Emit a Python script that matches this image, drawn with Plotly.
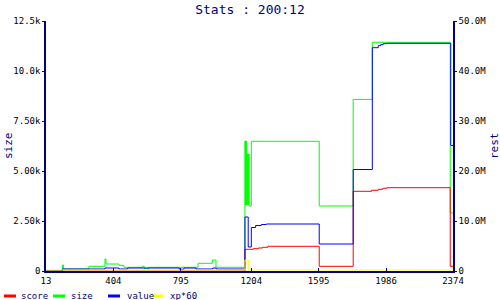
import plotly.graph_objects as go

# ---- data ----
x_ticks = [13, 404, 795, 1204, 1595, 1986, 2374]
x_tick_labels = ["13", "404", "795", "1204", "1595", "1986", "2374"]

size_ticks = [0, 2500, 5000, 7500, 10000, 12500]
size_tick_labels = ["0", "2.50k", "5.00k", "7.50k", "10.0k", "12.5k"]

rest_ticks = [0, 10e6, 20e6, 30e6, 40e6, 50e6]
rest_tick_labels = ["0", "10.0M", "20.0M", "30.0M", "40.0M", "50.0M"]

score_x = [13, 1167, 1215, 1244, 1270, 1300, 1598, 1795, 1902, 1940, 1967, 1990, 2358, 2374]
score_y = [0, 4.34e6, 4.46e6, 4.6e6, 4.74e6, 4.94e6, 0.94e6, 15.94e6, 16.14e6,
           16.34e6, 16.54e6, 16.66e6, 0.94e6, 0.94e6]

size_x = [13, 108, 115, 262, 355, 361, 436, 465, 574, 583, 610, 895, 978, 999,
          1167, 1169, 1171, 1173, 1175, 1177, 1179, 1181, 1183, 1185, 1187, 1192,
          1204, 1598, 1795, 1906, 2358, 2374]
size_y = [0, 300, 100, 235, 600, 350, 285, 185, 235, 115, 185, 385, 550, 185,
          6500, 3300, 6500, 3300, 6500, 3300, 5850, 3300, 5850, 3300, 5850, 3250,
          6485, 3250, 8580, 11435, 2900, 2900]

value_x = [13, 108, 355, 436, 487, 786, 813, 883, 980, 1000, 1167, 1186, 1204, 1229,
           1262, 1291, 1598, 1795, 1906, 1940, 1954, 1969, 1992, 2361, 2374]
value_y = [0, 0.4e6, 0.6e6, 0.4e6, 0.6e6, 0.35e6, 0.6e6, 0.4e6, 0.6e6, 0.4e6,
           10.8e6, 4.8e6, 8.7e6, 9.1e6, 9.3e6, 9.4e6, 5.4e6, 20.3e6, 44.66e6,
           45.06e6, 45.26e6, 45.46e6, 45.54e6, 25.1e6, 25.1e6]

xp_x = [13, 1167, 1186, 2374]
xp_y = [0.2e6, 2.2e6, 0.2e6, 0.2e6]

series_names = ["score", "size", "value", "xp*60"]
series_colors = ["#ff0000", "#00ff00", "#0000ff", "#ffff00"]

# ---- figure ----
NAVY = "#000080"
FONT = "DejaVu Sans Mono"
W, H = 500, 300
L, R, T, B = 46, 453, 21, 271  # plot box in pixels

fig = go.Figure()
fig.add_trace(go.Scatter(x=size_x, y=size_y, name="size", mode="lines",
                         line=dict(color=series_colors[1], width=1, shape="hv"),
                         yaxis="y"))
fig.add_trace(go.Scatter(x=score_x, y=score_y, name="score", mode="lines",
                         line=dict(color=series_colors[0], width=1, shape="hv"),
                         yaxis="y2"))
fig.add_trace(go.Scatter(x=value_x, y=value_y, name="value", mode="lines",
                         line=dict(color=series_colors[2], width=1, shape="hv"),
                         yaxis="y2"))
fig.add_trace(go.Scatter(x=xp_x, y=xp_y, name="xp*60", mode="lines",
                         line=dict(color=series_colors[3], width=1, shape="hv"),
                         yaxis="y2"))


def px_x(p):
    return (p - L) / (R - L)


def px_y(p):
    return (B - p) / (B - T)


shapes = []
annotations = []
legend_layout = [(4, 16, 19), (53, 65, 69), (108, 120, 125), (152, 163, 168)]
for name, color, (x0, x1, tx) in zip(series_names, series_colors, legend_layout):
    shapes.append(dict(type="line", xref="paper", yref="paper",
                       x0=px_x(x0), x1=px_x(x1), y0=px_y(296), y1=px_y(296),
                       line=dict(color=color, width=3)))
    annotations.append(dict(text=name, xref="paper", yref="paper",
                            x=px_x(tx), y=px_y(296), xanchor="left", yanchor="middle",
                            showarrow=False, font=dict(family=FONT, size=9, color=NAVY)))

annotations.append(dict(text="size", xref="paper", yref="paper", x=px_x(8), y=0.5,
                        xanchor="center", yanchor="middle", textangle=-90, showarrow=False,
                        font=dict(family=FONT, size=11, color=NAVY)))
annotations.append(dict(text="rest", xref="paper", yref="paper", x=px_x(494), y=0.5,
                        xanchor="center", yanchor="middle", textangle=-90, showarrow=False,
                        font=dict(family=FONT, size=11, color=NAVY)))

fig.update_layout(
    width=W, height=H,
    margin=dict(l=L, r=W - R, t=T, b=H - B, pad=0),
    paper_bgcolor="white", plot_bgcolor="white",
    showlegend=False,
    title=dict(text="Stats : 200:12", x=0.5, xref="container", xanchor="center",
               y=1 - 9 / H, yanchor="middle", yref="container",
               font=dict(family=FONT, size=13, color=NAVY)),
    xaxis=dict(range=[13, 2374], tickvals=x_ticks, ticktext=x_tick_labels,
               showgrid=False, zeroline=False, showline=True, linecolor=NAVY, linewidth=1.5,
               ticks="inside", ticklen=3, tickcolor=NAVY,
               tickfont=dict(family=FONT, size=9, color="black")),
    yaxis=dict(range=[0, 12500], tickvals=size_ticks, ticktext=size_tick_labels,
               showgrid=False, zeroline=False, showline=True, linecolor=NAVY, linewidth=1.5,
               ticks="outside", ticklen=2, tickcolor=NAVY,
               tickfont=dict(family=FONT, size=9, color="black")),
    yaxis2=dict(range=[0, 50e6], tickvals=rest_ticks, ticktext=rest_tick_labels,
                overlaying="y", side="right",
                showgrid=False, zeroline=False, showline=True, linecolor=NAVY, linewidth=1.5,
                ticks="outside", ticklen=2, tickcolor=NAVY,
                tickfont=dict(family=FONT, size=9, color="black")),
    shapes=shapes,
    annotations=annotations,
)

fig.write_html("out.html")
